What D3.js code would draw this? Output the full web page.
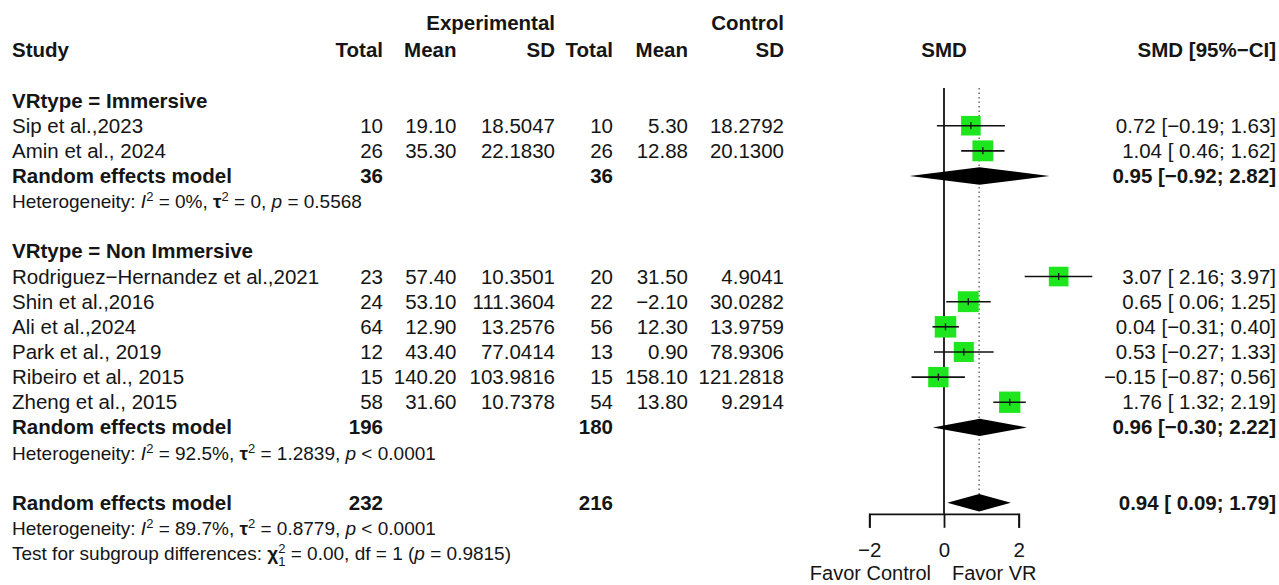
<!DOCTYPE html>
<html>
<head>
<meta charset="utf-8">
<script src="https://cdn.jsdelivr.net/npm/d3@7"></script>
<style>
  body { margin: 0; background: #fff; }
  svg text { font-family: "Liberation Sans", Arial, sans-serif; fill: #151515; }
</style>
</head>
<body>
<div id="chart"></div>
<script>
// study level data
const studies = ['Sip et al.,2023', 'Amin et al., 2024', 'Rodriguez\u2212Hernandez et al.,2021', 'Shin et al.,2016',
  'Ali et al.,2024', 'Park et al., 2019', 'Ribeiro et al., 2015', 'Zheng et al., 2015']
const vrType = ['Immersive', 'Immersive', 'Non Immersive', 'Non Immersive', 'Non Immersive', 'Non Immersive', 'Non Immersive', 'Non Immersive']
const expTotal = [10, 26, 23, 24, 64, 12, 15, 58]
const expMean = [19.10, 35.30, 57.40, 53.10, 12.90, 43.40, 140.20, 31.60]
const expSD = [18.5047, 22.1830, 10.3501, 111.3604, 13.2576, 77.0414, 103.9816, 10.7378]
const ctrlTotal = [10, 26, 20, 22, 56, 13, 15, 54]
const ctrlMean = [5.30, 12.88, 31.50, -2.10, 12.30, 0.90, 158.10, 13.80]
const ctrlSD = [18.2792, 20.1300, 4.9041, 30.0282, 13.9759, 78.9306, 121.2818, 9.2914]
const smd = [0.72, 1.04, 3.07, 0.65, 0.04, 0.53, -0.15, 1.76]
const ciLow = [-0.19, 0.46, 2.16, 0.06, -0.31, -0.27, -0.87, 1.32]
const ciHigh = [1.63, 1.62, 3.97, 1.25, 0.40, 1.33, 0.56, 2.19]
const weight = [11.4, 12.9, 11.4, 12.9, 13.7, 11.9, 12.3, 13.5]

// subgroup summaries
const subgroups = ['Immersive', 'Non Immersive']
const subExpTotal = [36, 196]
const subCtrlTotal = [36, 180]
const subSmd = [0.95, 0.96]
const subLow = [-0.92, -0.30]
const subHigh = [2.82, 2.22]
const subI2 = ['0%', '92.5%']
const subTau2 = ['0', '1.2839']
const subP = ['= 0.5568', '< 0.0001']

// overall
const overallExpTotal = 232
const overallCtrlTotal = 216
const overallSmd = 0.94
const overallLow = 0.09
const overallHigh = 1.79
const overallI2 = '89.7%'
const overallTau2 = '0.8779'
const overallP = '< 0.0001'
const testChi2 = '0.00'
const testDf = 1
const testP = '0.9815'

const axisTicks = [-2, 0, 2]
const axisLabels = ['Favor Control', 'Favor VR']

const width = 1279, height = 585
const rowH = 25.14
const rowY = k => k * rowH
const fs = 20.5, fsHet = 19

const fmt2 = d3.format('.2f'), fmt4 = d3.format('.4f'), fmtInt = d3.format('d')
const ciText = (m, lo, hi) => fmt2(m) + ' [' + (lo >= 0 ? ' ' : '') + fmt2(lo) + '; ' + fmt2(hi) + ']'

const x = d3.scaleLinear().domain([-2, 2]).range([869.3, 1018.7])
const sq = d3.scaleSqrt().domain([0, d3.max(weight)]).range([0, 21.5])

const svg = d3.select('#chart').append('svg')
  .attr('width', width)
  .attr('height', height)

// column layout
const cols = [
  { key: 'expTotal', x: 383, fmt: fmtInt },
  { key: 'expMean', x: 456.5, fmt: fmt2 },
  { key: 'expSD', x: 555, fmt: fmt4 },
  { key: 'ctrlTotal', x: 613, fmt: fmtInt },
  { key: 'ctrlMean', x: 688, fmt: fmt2 },
  { key: 'ctrlSD', x: 784, fmt: fmt4 }
]
const ciX = 1276

const txt = (s, xx, y, anchor, bold, size) => svg.append('text')
  .attr('x', xx).attr('y', y + 7)
  .attr('text-anchor', anchor || 'start')
  .attr('font-size', size || fs)
  .attr('font-weight', bold ? 'bold' : 'normal')
  .text(s)

// header
txt('Experimental', cols[2].x, 23, 'end', true)
txt('Control', cols[5].x, 23, 'end', true)
txt('Study', 12, rowY(2), 'start', true)
const headLabels = ['Total', 'Mean', 'SD', 'Total', 'Mean', 'SD']
cols.forEach((c, i) => txt(headLabels[i], c.x, rowY(2), 'end', true))
txt('SMD', x(0), rowY(2), 'middle', true)
txt('SMD [95%\u2212CI]', ciX, rowY(2), 'end', true)

// heterogeneity line with super / subscripts
const richText = (y, parts) => {
  const t = svg.append('text').attr('x', 12).attr('y', y + 7).attr('font-size', fsHet)
  parts.forEach(p => {
    const s = t.append('tspan').text(p.t)
    if (p.it) s.attr('font-style', 'italic')
    if (p.b) s.attr('font-weight', 'bold')
    if (p.fs) s.attr('font-size', p.fs)
    if (p.dy) s.attr('dy', p.dy)
    if (p.dx) s.attr('dx', p.dx)
  })
}
const hetParts = (i2, tau2, p) => [
  { t: 'Heterogeneity: ' }, { t: 'I', it: true }, { t: '2', fs: 13, dy: -7 },
  { t: ' = ' + i2 + ', ', dy: 7 }, { t: '\u03c4', b: true }, { t: '2', fs: 13, dy: -7 },
  { t: ' = ' + tau2 + ', ', dy: 7 }, { t: 'p', it: true }, { t: ' ' + p }
]

const plot = svg.append('g')
const marks = svg.append('g')
const diamond = (m, lo, hi, y) => marks.append('path')
  .attr('d', `M${x(lo)},${y}L${x(m)},${y - 8.7}L${x(hi)},${y}L${x(m)},${y + 8.7}Z`)
  .attr('fill', '#000')

let k = 4
const topY = rowY(k) - rowH / 2
subgroups.forEach((g, gi) => {
  txt('VRtype = ' + g, 12, rowY(k++), 'start', true)
  studies.forEach((s, i) => {
    if (vrType[i] !== g) return
    const y = rowY(k++)
    const vals = { expTotal: expTotal[i], expMean: expMean[i], expSD: expSD[i],
      ctrlTotal: ctrlTotal[i], ctrlMean: ctrlMean[i], ctrlSD: ctrlSD[i] }
    txt(s, 12, y)
    cols.forEach(c => txt(c.fmt(vals[c.key]), c.x, y, 'end'))
    txt(ciText(smd[i], ciLow[i], ciHigh[i]), ciX, y, 'end')
    const size = sq(weight[i])
    marks.append('rect')
      .attr('x', x(smd[i]) - size / 2).attr('y', y - size / 2)
      .attr('width', size).attr('height', size)
      .attr('fill', '#1ee61e')
    marks.append('line')
      .attr('x1', x(ciLow[i])).attr('x2', x(ciHigh[i]))
      .attr('y1', y).attr('y2', y)
      .attr('stroke', '#111').attr('stroke-width', 1.6)
    marks.append('line')
      .attr('x1', x(smd[i])).attr('x2', x(smd[i]))
      .attr('y1', y - 3.5).attr('y2', y + 3.5)
      .attr('stroke', '#111').attr('stroke-width', 1.3)
  })
  const y = rowY(k++)
  txt('Random effects model', 12, y, 'start', true)
  txt(subExpTotal[gi], cols[0].x, y, 'end', true)
  txt(subCtrlTotal[gi], cols[3].x, y, 'end', true)
  txt(ciText(subSmd[gi], subLow[gi], subHigh[gi]), ciX, y, 'end', true)
  diamond(subSmd[gi], subLow[gi], subHigh[gi], y)
  richText(rowY(k++), hetParts(subI2[gi], subTau2[gi], subP[gi]))
  k++
})

const yOverall = rowY(k++)
txt('Random effects model', 12, yOverall, 'start', true)
txt(overallExpTotal, cols[0].x, yOverall, 'end', true)
txt(overallCtrlTotal, cols[3].x, yOverall, 'end', true)
txt(ciText(overallSmd, overallLow, overallHigh), ciX, yOverall, 'end', true)
diamond(overallSmd, overallLow, overallHigh, yOverall)
richText(rowY(k++), hetParts(overallI2, overallTau2, overallP))
richText(rowY(k++), [
  { t: 'Test for subgroup differences: ' }, { t: '\u03c7', b: true },
  { t: '2', fs: 13, dy: -7 }, { t: '1', fs: 13, dx: -7.2, dy: 13 },
  { t: ' = ' + testChi2 + ', df = ' + testDf + ' (', dy: -6 }, { t: 'p', it: true }, { t: ' = ' + testP + ')' }
])

// reference lines
const axisY = yOverall + 11
plot.append('line')
  .attr('x1', x(0)).attr('x2', x(0)).attr('y1', topY).attr('y2', axisY)
  .attr('stroke', '#111').attr('stroke-width', 1.8)
plot.append('line')
  .attr('x1', x(overallSmd)).attr('x2', x(overallSmd)).attr('y1', topY).attr('y2', yOverall - 8.7)
  .attr('stroke', '#555').attr('stroke-width', 1.3).attr('stroke-dasharray', '1.5,3')

// axis
const axisScale = d3.scaleLinear().domain(d3.extent(axisTicks)).range(d3.extent(axisTicks).map(x))
const axis = d3.axisBottom(axisScale)
  .tickValues(axisTicks)
  .tickSize(14)
  .tickSizeOuter(14)
  .tickPadding(15)
  .tickFormat(d3.format('d'))
const ag = svg.append('g')
  .attr('transform', 'translate(0,' + axisY + ')')
  .call(axis)
ag.attr('font-size', fs).attr('font-family', '"Liberation Sans", Arial, sans-serif')
ag.selectAll('path, line').attr('stroke', '#111').attr('stroke-width', 1.8)

svg.append('text').attr('x', x(0) - 13).attr('y', 580)
  .attr('text-anchor', 'end').attr('font-size', 20).text(axisLabels[0])
svg.append('text').attr('x', x(0) + 8).attr('y', 580)
  .attr('text-anchor', 'start').attr('font-size', 20).text(axisLabels[1])
</script>
</body>
</html>
